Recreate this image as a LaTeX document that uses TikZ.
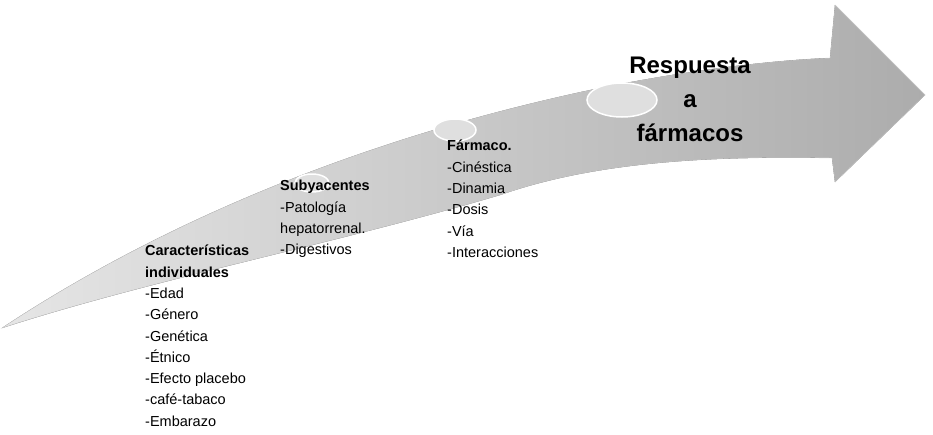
\documentclass[tikz,border=0pt]{standalone}
\usepackage{fontspec}
\usetikzlibrary{shapes.geometric}
\setmainfont{Liberation Sans}
\begin{document}
\begin{tikzpicture}[x=1pt,y=-1pt,
  lbl/.style={align=left,anchor=north west,inner sep=0pt,font=\fontsize{14.5}{21.3}\selectfont},
  disc/.style={draw=white,line width=1.5pt,fill=gray!25,ellipse},
]
\useasboundingbox (0,0) rectangle (933,434);
\fill[left color=gray!20,right color=gray!65,draw=gray!40]
  (2,328) .. controls (150,230) and (350,140) .. (600,88)
  .. controls (700,68) and (780,60) .. (830,58)
  -- (835,5) -- (925,95) -- (835,182) -- (832,158)
  .. controls (720,156) and (600,160) .. (500,195)
  .. controls (330,245) and (150,280) .. (2,328) -- cycle;
\node[disc,minimum width=34pt,minimum height=18pt] (e1) at (312,183) {};
\node[disc,minimum width=42pt,minimum height=22pt] (e2) at (455,130) {};
\node[disc,minimum width=70pt,minimum height=34pt] (e3) at (622,100) {};
\node[lbl] (a) at (145,245) {\textbf{Características}\\\textbf{individuales}\\-Edad\\-Género\\-Genética\\-Étnico\\-Efecto placebo\\-café-tabaco\\-Embarazo};
\node[lbl] (b) at (280,180) {\textbf{Subyacentes}\\-Patología\\hepatorrenal.\\-Digestivos};
\node[lbl] (c) at (447,140) {\textbf{Fármaco.}\\-Cinéstica\\-Dinamia\\-Dosis\\-Vía\\-Interacciones};
\node[align=center,inner sep=0pt,font=\fontsize{24}{34}\selectfont\bfseries] (r) at (690,99) {Respuesta\\a\\fármacos};
\end{tikzpicture}
\end{document}
